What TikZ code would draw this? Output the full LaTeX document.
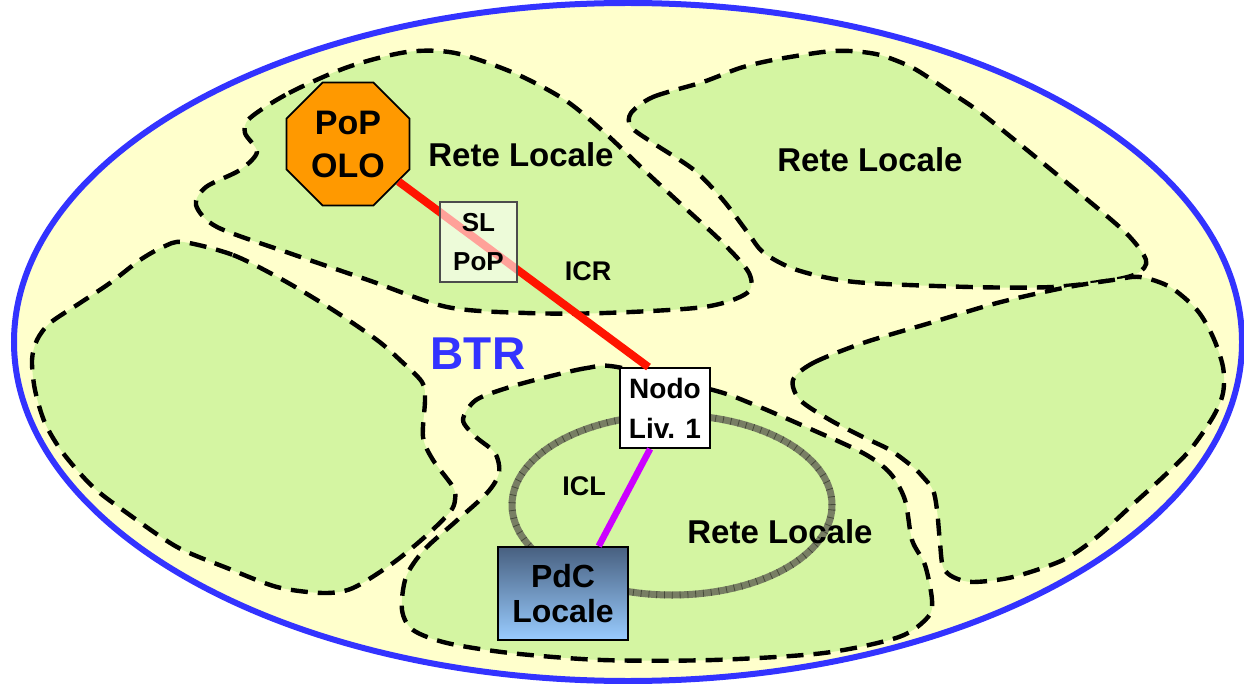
\documentclass[tikz,border=0pt]{standalone}
\usepackage{fontspec}
\setmainfont{Liberation Sans}
\usetikzlibrary{shapes.geometric}

\definecolor{btrblue}{RGB}{51,51,255}
\definecolor{btrfill}{RGB}{255,255,204}
\definecolor{zone}{RGB}{212,245,162}
\definecolor{olo}{RGB}{255,153,0}
\definecolor{icr}{RGB}{255,20,0}
\definecolor{icl}{RGB}{204,0,255}
\definecolor{ringcol}{RGB}{120,126,100}
\definecolor{ringtick}{RGB}{70,74,58}
\definecolor{pdctop}{RGB}{72,96,128}
\definecolor{pdcbot}{RGB}{153,204,255}

\begin{document}
\begin{tikzpicture}[x=1pt,y=-1pt,
  area/.style={fill=zone, draw=black, line width=4.4pt, dash pattern=on 17pt off 10pt},
  ringline/.style={draw=ringcol, line width=7pt},
  ringticks/.style={draw=ringtick, line width=7pt, dash pattern=on 0.8pt off 7pt},
  lbl/.style={font=\fontsize{33}{40}\selectfont\bfseries, inner sep=0pt},
  small/.style={font=\fontsize{27}{32}\selectfont\bfseries, inner sep=0pt},
  box/.style={draw=black, line width=1.8pt, align=center, inner sep=0pt}
]
\useasboundingbox (0,0) rectangle (1244,684);
\fill[white] (0,0) rectangle (1244,684);

% whole territory
\filldraw[fill=btrfill, draw=btrblue, line width=6pt] (628,342) ellipse [x radius=614pt, y radius=339pt];

% local network areas
\path[area] plot[smooth cycle] coordinates {(250,118) (289,93) (348,67) (407,52) (455,53) (514,73) (565,100) (605,133) (644,170) (684,207) (723,243) (749,273) (747,293) (704,307) (605,313) (526,313) (447,307) (368,280) (289,253) (217,227) (196,205) (206,187) (240,170) (257,152) (245,133)};

\path[area] plot[smooth cycle] coordinates {(631,113) (653,97) (703,82) (740,68) (773,60) (823,52) (850,51) (880,55) (913,68) (947,90) (977,110) (1011,137) (1072,187) (1126,233) (1146,260) (1138,273) (1113,280) (1052,287) (970,287) (855,282) (797,270) (764,253) (748,233) (723,200) (694,170) (653,143) (631,127)};

\path[area] plot[smooth cycle] coordinates {(183,242) (233,255) (283,280) (333,310) (377,340) (400,360) (422,382) (425,400) (423,437) (433,460) (453,487) (455,500) (450,512) (427,535) (393,563) (353,588) (323,593) (277,587) (227,568) (177,547) (127,513) (93,487) (63,453) (45,423) (35,390) (32,360) (37,340) (50,323) (80,303) (110,283) (140,260) (163,247)};

\path[area] plot[smooth cycle] coordinates {(617,367) (587,368) (547,377) (510,387) (476,400) (463,420) (476,437) (495,453) (499,473) (487,493) (454,523) (424,550) (406,577) (402,610) (413,630) (447,643) (510,653) (602,660) (713,660) (824,653) (899,637) (928,617) (932,600) (925,565) (912,540) (905,500) (890,473) (863,453) (806,427) (750,403) (713,390)};

\path[area] plot[smooth cycle] coordinates {(793,380) (813,363) (863,343) (930,323) (997,303) (1063,288) (1113,280) (1140,277) (1170,287) (1197,310) (1213,337) (1223,367) (1223,393) (1213,417) (1190,450) (1163,477) (1130,507) (1097,537) (1063,560) (1013,577) (973,582) (953,577) (943,567) (940,543) (937,510) (933,490) (923,477) (913,467) (890,450) (863,437) (830,420) (800,400)};

% local ring
\draw[ringline] (672,505) ellipse [x radius=160pt, y radius=90pt];
\draw[ringticks] (672,505) ellipse [x radius=160pt, y radius=90pt];

% texts
\node[lbl] (rl1) at (521,155) {Rete Locale};
\node[lbl] (rl2) at (870,160) {Rete Locale};
\node[lbl] (rl3) at (780,532) {Rete Locale};
\node[font=\fontsize{46}{50}\selectfont\bfseries, text=btrblue, inner sep=0pt] (btr) at (478,354) {BTR};
\node[small] (icr) at (588,271) {ICR};
\node[small] (iclt) at (584,486) {ICL};

% nodes
\node[regular polygon, regular polygon sides=8, minimum size=133pt, inner sep=0pt,
      fill=olo, draw=black, line width=1.8pt, align=center,
      font=\fontsize{34}{43}\selectfont\bfseries] (popolo) at (348,144) {PoP\\OLO};
\node[box, fill=white, minimum width=90pt, minimum height=80pt,
      font=\fontsize{28}{40}\selectfont\bfseries] (nodo) at (665,408) {Nodo\\Liv. 1};
\node[box, top color=pdctop, bottom color=pdcbot, minimum width=130pt, minimum height=93pt,
      font=\fontsize{32}{35}\selectfont\bfseries] (pdc) at (563,593.5) {PdC\\Locale};

% links
\draw[icr, line width=8pt] (popolo) -- (nodo.112);
\draw[icl, line width=6.5pt] (nodo.250) -- (pdc.53);

% shared-site box over the ICR link
\node[box, draw=black!70, line width=1.4pt, fill=white, fill opacity=0.6, text opacity=1,
      minimum width=77pt, minimum height=80pt,
      font=\fontsize{26}{39}\selectfont\bfseries] (slpop) at (478.5,242) {SL\\PoP};
\end{tikzpicture}
\end{document}
